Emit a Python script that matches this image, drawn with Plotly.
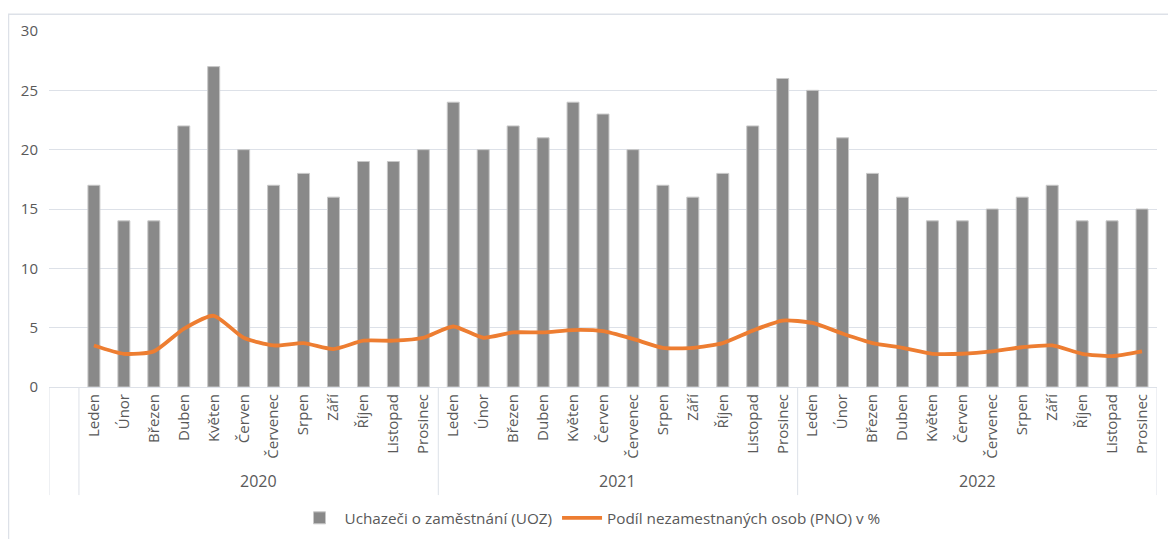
import plotly.graph_objects as go

years = ["2020", "2021", "2022"]
months = ["Leden", "Únor", "Březen", "Duben", "Květen", "Červen",
          "Červenec", "Srpen", "Září", "Říjen", "Listopad", "Prosinec"]

uoz_2020 = [17, 14, 14, 22, 27, 20, 17, 18, 16, 19, 19, 20]
uoz_2021 = [24, 20, 22, 21, 24, 23, 20, 17, 16, 18, 22, 26]
uoz_2022 = [25, 21, 18, 16, 14, 14, 15, 16, 17, 14, 14, 15]

pno_2020 = [3.5, 2.8, 3.0, 4.9, 6.0, 4.15, 3.5, 3.7, 3.2, 3.9, 3.9, 4.15]
pno_2021 = [5.1, 4.15, 4.6, 4.6, 4.8, 4.7, 4.05, 3.3, 3.3, 3.7, 4.75, 5.6]
pno_2022 = [5.4, 4.5, 3.7, 3.3, 2.8, 2.8, 3.0, 3.35, 3.5, 2.8, 2.6, 3.0]

uoz = uoz_2020 + uoz_2021 + uoz_2022
pno = pno_2020 + pno_2021 + pno_2022
labels = months * len(years)
x = list(range(len(labels)))

FONT = "Open Sans"
TXT = "#595959"
GRID = "#DDE1E8"

# page body has an 8px margin, so the layout is offset to compensate
OFF = 8
L, T, R, B = 49 - OFF, 28 - OFF, 1176 - 1157 + OFF, 539 - 387 + OFF
plot_w = 1157 - 49
plot_h = 387 - 28

fig = go.Figure()
fig.add_trace(go.Bar(
    x=x, y=uoz, name="Uchazeči o zaměstnání (UOZ)",
    marker=dict(color="#898989", line=dict(color="#C8C8C8", width=1)),
    width=0.4,
))
fig.add_trace(go.Scatter(
    x=x, y=pno, name="Podíl nezamestnaných osob (PNO) v %",
    mode="lines", line=dict(color="#ED7D31", width=3.8, shape="spline", smoothing=0.6),
))

n = len(months)
div_y = (387 - 496) / plot_h
shapes = []
div_x = [-1.5, -0.5] + [n * (i + 1) - 0.5 for i in range(len(years))]
for dx in div_x:
    shapes.append(dict(type="line", xref="x", yref="paper", x0=dx, x1=dx,
                       y0=0, y1=div_y, line=dict(color=GRID, width=1)))
shapes.append(dict(type="rect", xref="paper", yref="paper",
                   x0=(8.5 - 49) / plot_w, x1=(1175 - 49) / plot_w,
                   y0=(387 - 11) / plot_h, y1=-0.6,
                   line=dict(color="#DDE1E8", width=1.5), layer="below"))

annotations = []
for i, yr in enumerate(years):
    annotations.append(dict(x=n * i + (n - 1) / 2, y=(387 - 482) / plot_h,
                            xref="x", yref="paper", yanchor="middle",
                            text=yr, showarrow=False,
                            font=dict(family=FONT, size=16, color=TXT)))

fig.update_layout(
    width=1176, height=539,
    margin=dict(l=L, r=R, t=T, b=B),
    paper_bgcolor="white", plot_bgcolor="white",
    font=dict(family=FONT, size=15, color=TXT),
    showlegend=True,
    legend=dict(orientation="h", x=(590 - 49) / plot_w, xanchor="center",
                y=(387 - 519) / plot_h, yanchor="middle",
                font=dict(family=FONT, size=15.3, color=TXT),
                itemwidth=40, traceorder="normal"),
    shapes=shapes, annotations=annotations,
)
fig.update_xaxes(
    tickmode="array", tickvals=x, ticktext=labels, tickangle=-90,
    range=[-1.5, len(x) - 0.5], showgrid=False, zeroline=False,
    showline=True, linecolor=GRID, linewidth=1, ticks="",
    tickfont=dict(family=FONT, size=15, color=TXT),
)
fig.update_yaxes(
    range=[0, 30], dtick=5, showgrid=True, gridcolor=GRID, gridwidth=1,
    zeroline=False, showline=False, ticks="", ticklabelstandoff=10,
    tickfont=dict(family=FONT, size=15, color=TXT),
)

fig.write_html("out.html")
